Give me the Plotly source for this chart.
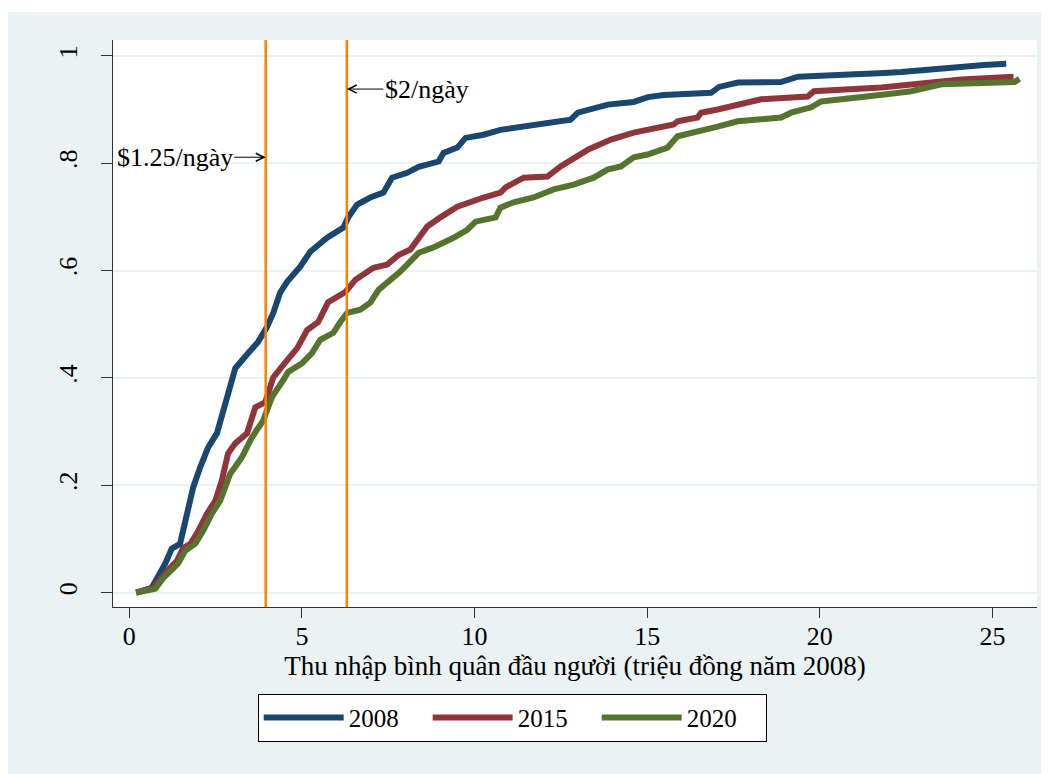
import plotly.graph_objects as go

# ---- data (CDF of per-capita income) ----
x2008 = [0.2, 0.65, 1.04, 1.23, 1.47, 1.67, 1.85, 2.05, 2.28, 2.54, 2.72, 2.92, 3.07, 3.44, 3.73,
         3.99, 4.17, 4.37, 4.57, 4.95, 5.24, 5.73, 6.20, 6.34, 6.60, 6.98, 7.36, 7.61, 8.05, 8.38,
         8.96, 9.10, 9.50, 9.74, 10.26, 10.75, 11.91, 12.78, 12.99, 13.86, 14.61, 15.02, 15.48,
         16.85, 17.08, 17.63, 18.87, 19.37, 21.86, 22.36, 24.76, 25.40]
y2008 = [0.0, 0.009, 0.054, 0.082, 0.091, 0.147, 0.196, 0.233, 0.27, 0.297, 0.34, 0.383, 0.418, 0.446, 0.467,
         0.495, 0.521, 0.559, 0.579, 0.607, 0.635, 0.661, 0.68, 0.699, 0.723, 0.736, 0.745, 0.773, 0.782, 0.793,
         0.803, 0.819, 0.829, 0.847, 0.853, 0.862, 0.872, 0.881, 0.894, 0.909, 0.914, 0.923, 0.927,
         0.931, 0.942, 0.950, 0.951, 0.961, 0.968, 0.970, 0.983, 0.985]

x2015 = [0.2, 0.69, 1.09, 1.38, 1.56, 1.77, 2.0, 2.25, 2.49, 2.68, 2.86, 3.07, 3.41, 3.65, 3.94,
         4.17, 4.52, 4.86, 5.15, 5.47, 5.76, 6.26, 6.55, 7.07, 7.47, 7.80, 8.14, 8.43, 8.63, 9.01,
         9.50, 10.26, 10.75, 10.90, 11.42, 12.11, 12.49, 12.98, 13.31, 13.95, 14.61, 15.77, 15.88,
         16.46, 16.56, 17.04, 17.72, 18.30, 19.65, 19.83, 21.78, 24.10, 25.61]
y2015 = [0.0, 0.009, 0.04, 0.059, 0.083, 0.091, 0.115, 0.147, 0.171, 0.209, 0.259, 0.278, 0.297, 0.345, 0.355,
         0.401, 0.429, 0.455, 0.489, 0.504, 0.541, 0.56, 0.583, 0.605, 0.611, 0.629, 0.639, 0.667, 0.682, 0.699,
         0.719, 0.736, 0.745, 0.755, 0.773, 0.775, 0.794, 0.813, 0.826, 0.844, 0.857, 0.872, 0.878,
         0.885, 0.894, 0.900, 0.909, 0.919, 0.924, 0.934, 0.941, 0.956, 0.961]

x2020 = [0.2, 0.75, 0.98, 1.18, 1.41, 1.62, 1.91, 2.14, 2.39, 2.63, 2.92, 3.26, 3.55, 3.88, 4.13,
         4.46, 4.60, 5.0, 5.29, 5.53, 5.91, 6.11, 6.31, 6.69, 6.98, 7.22, 7.85, 8.38, 8.81, 9.39,
         9.79, 10.03, 10.61, 10.75, 11.13, 11.71, 12.29, 12.87, 13.45, 13.85, 14.24, 14.61, 15.01,
         15.59, 15.88, 17.04, 17.62, 18.88, 19.17, 19.75, 20.04, 21.87, 22.65, 23.52, 24.77, 25.64, 25.78]
y2020 = [0.0, 0.007, 0.027, 0.04, 0.054, 0.078, 0.091, 0.115, 0.147, 0.171, 0.221, 0.252, 0.289, 0.321, 0.364,
         0.396, 0.411, 0.427, 0.446, 0.471, 0.484, 0.504, 0.521, 0.527, 0.54, 0.564, 0.598, 0.633, 0.643, 0.661,
         0.676, 0.691, 0.699, 0.717, 0.727, 0.736, 0.751, 0.760, 0.773, 0.788, 0.794, 0.811, 0.816,
         0.829, 0.850, 0.868, 0.878, 0.885, 0.894, 0.904, 0.915, 0.928, 0.934, 0.947, 0.951, 0.951, 0.957]

series_names = ["2008", "2015", "2020"]
series_colors = ["#1a476f", "#90353b", "#55752f"]

poverty_x = [3.95, 6.30]
poverty_labels = ["$1.25/ngày", "$2/ngày"]
poverty_label_y = [0.811, 0.938]

x_tickvals = [0, 5, 10, 15, 20, 25]
y_tickvals = [0, 0.2, 0.4, 0.6, 0.8, 1.0]
y_ticktext = ["0", ".2", ".4", ".6", ".8", "1"]

x_title = "Thu nhập bình quân đầu người (triệu đồng năm 2008)"

FONT = "Liberation Serif"
BG = "#EAF2F3"

fig = go.Figure()
for xs, ys, name, col in zip([x2008, x2015, x2020], [y2008, y2015, y2020], series_names, series_colors):
    fig.add_trace(go.Scatter(x=xs, y=ys, mode="lines", name=name,
                             line=dict(color=col, width=6)))

# poverty lines
for px in poverty_x:
    fig.add_shape(type="line", xref="x", yref="paper", x0=px, x1=px, y0=0, y1=1,
                  line=dict(color="#FF8000", width=2.5), layer="above")

# annotations with arrows
fig.add_annotation(x=poverty_x[0], y=poverty_label_y[0], xref="x", yref="y",
                   text=poverty_labels[0], showarrow=True, ax=-91, ay=0,
                   arrowhead=5, arrowsize=1.6, arrowwidth=1, arrowcolor="black",
                   font=dict(family=FONT, size=26, color="black"))
fig.add_annotation(x=poverty_x[1], y=poverty_label_y[1], xref="x", yref="y",
                   text=poverty_labels[1], showarrow=True, ax=80, ay=0,
                   arrowhead=5, arrowsize=1.6, arrowwidth=1, arrowcolor="black",
                   font=dict(family=FONT, size=26, color="black"))

# thin white strip at the very top (page border)
fig.add_shape(type="rect", xref="paper", yref="paper", x0=-0.2, x1=1.05, y0=1.0494, y1=1.1,
              fillcolor="white", line=dict(width=0), layer="below")

fig.update_layout(
    width=1041, height=766,
    margin=dict(l=105, r=12, t=32, b=167),
    paper_bgcolor=BG, plot_bgcolor="white",
    font=dict(family=FONT, size=26, color="black"),
    showlegend=True,
    legend=dict(orientation="h", x=0.432, xanchor="center", y=-0.153, yanchor="top",
                bgcolor="white", bordercolor="black", borderwidth=1,
                font=dict(family=FONT, size=25, color="black"),
                itemwidth=80, entrywidth=74, entrywidthmode="pixels"),
    xaxis=dict(range=[-0.472, 26.29], tickvals=x_tickvals, ticks="outside", ticklen=10,
               tickcolor="#333333", tickwidth=1, showgrid=False, zeroline=False,
               showline=True, linecolor="#333333", linewidth=1.2,
               tickfont=dict(family=FONT, size=26), ticklabelstandoff=-4,
               title=dict(text=x_title, font=dict(family=FONT, size=27), standoff=0)),
    yaxis=dict(range=[-0.0268, 1.0294], tickvals=y_tickvals, ticktext=y_ticktext,
               ticks="outside", ticklen=11, tickcolor="#333333", tickwidth=1,
               tickangle=-90, showgrid=True, gridcolor=BG, gridwidth=1.5, zeroline=False,
               showline=True, linecolor="#333333", linewidth=1.2, ticklabelstandoff=14,
               tickfont=dict(family=FONT, size=26)),
)

fig.write_html("out.html")
